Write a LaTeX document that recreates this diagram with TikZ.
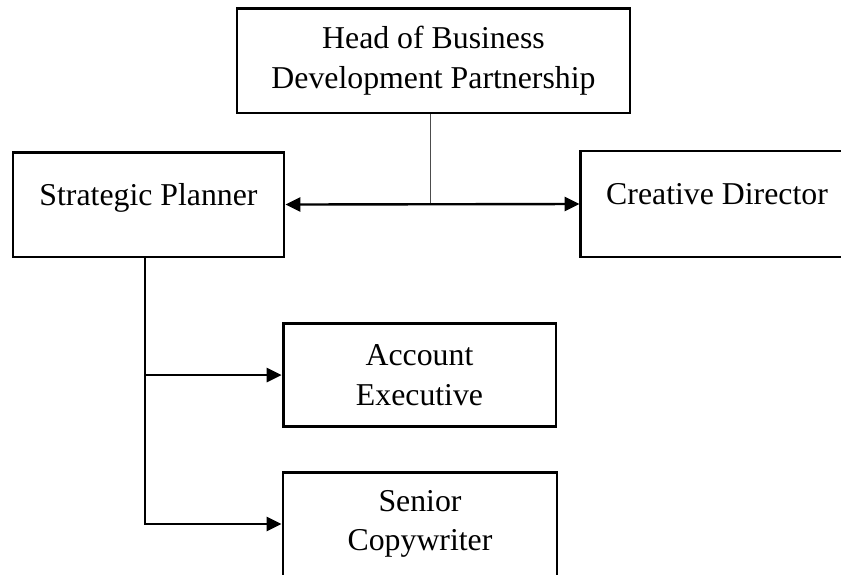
\documentclass[tikz,border=0pt]{standalone}
\usepackage{fontspec}
\setmainfont{Liberation Serif}
\usetikzlibrary{arrows.meta}

\begin{document}
\begin{tikzpicture}[x=0.3774pt,y=-0.3774pt,
  box/.style={shape=rectangle,draw=black,align=center,line width=1.1pt,inner sep=0pt,
    font=\fontsize{12}{15}\selectfont},
  topbox/.style={box,text height=8.5pt,text depth=8pt},
  link/.style={draw=black,line width=0.9pt,-{Triangle[length=5.6pt,width=5.3pt]}}]
\clip (0,0) rectangle (841,574);
\node[box,minimum width=148.3pt,minimum height=39.6pt] (0) at (433.5,60.5) {Head of Business\\Development Partnership};
\node[topbox,minimum width=102.3pt,minimum height=39.6pt] (1) at (148.5,204.5) {Strategic Planner};
\node[topbox,minimum width=102.7pt,minimum height=40pt] (2) at (717,204) {Creative Director};
\node[box,minimum width=103pt,minimum height=39.2pt] (3) at (419.5,375) {Account\\Executive};
\node[box,minimum width=103.4pt,minimum height=39.2pt] (4) at (420,524) {Senior\\Copywriter};

\path [draw=black!70,line width=0.45pt] ([xshift=-1pt]0.south) -- ([xshift=-1pt]0.south |- 1.east);
\path [link,{Triangle[length=5.6pt,width=5.3pt]}-{Triangle[length=5.6pt,width=5.3pt]}] (1.east) -- (2.west);
\path [link] ([xshift=-1.3pt]1.south) |- (3.west);
\path [link] ([xshift=-1.3pt]1.south) |- (4.west);
\end{tikzpicture}
\end{document}
